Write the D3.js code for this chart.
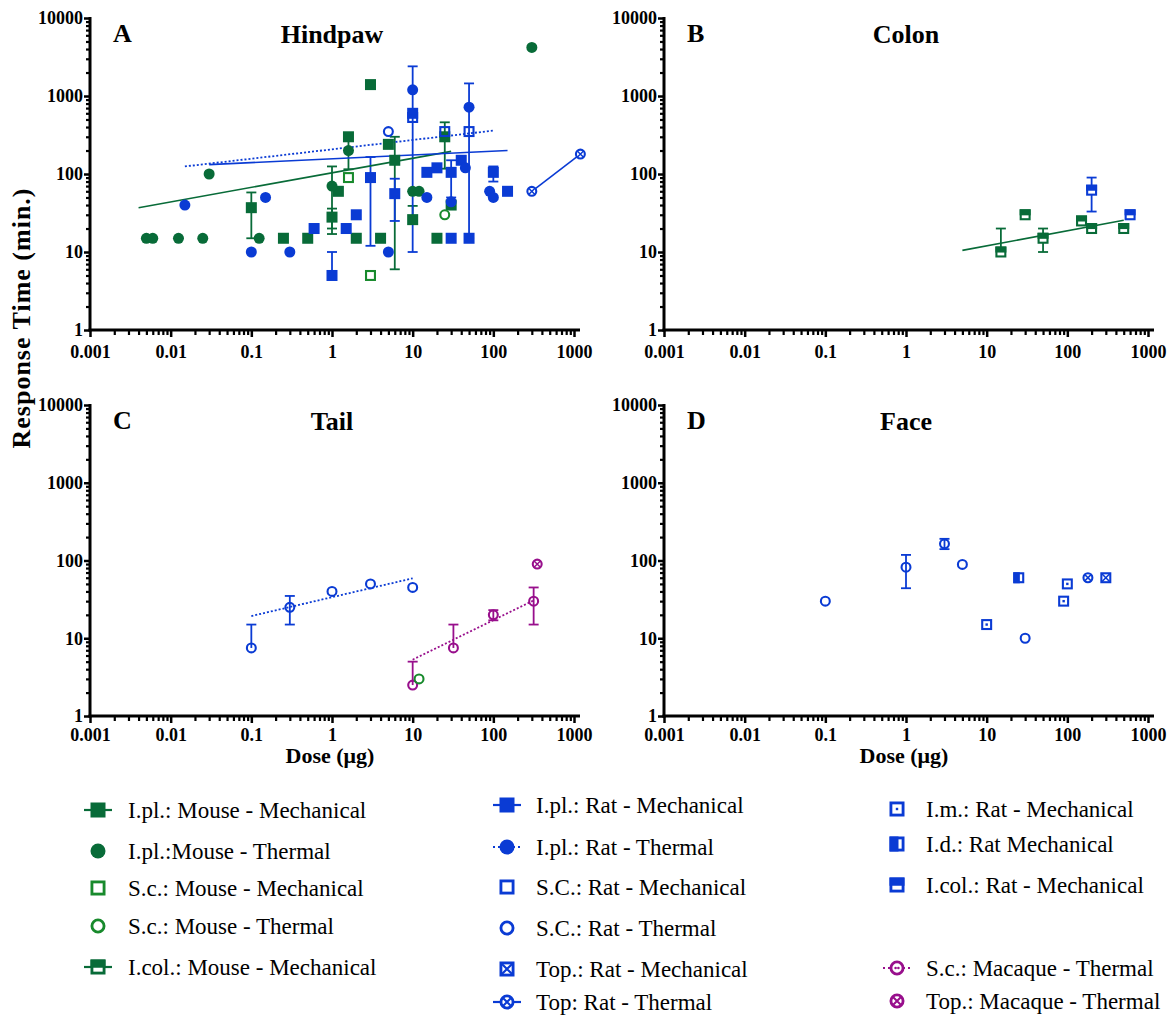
<!DOCTYPE html>
<html>
<head>
<meta charset="utf-8">
<script src="https://cdn.jsdelivr.net/npm/d3@7/dist/d3.min.js"></script>
<style>
  body { margin: 0; background: #fff; }
  svg text { font-family: "Liberation Serif", "DejaVu Serif", "Times New Roman", serif !important; }
</style>
</head>
<body>
<script>
// colours
var GREEN = '#086b38', GREEN2 = '#188a2c', BLUE = '#0a3bd4', PURPLE = '#980f8c';
var SERIF = '"Liberation Serif", "DejaVu Serif", serif';

// axis ticks
var xMajor = [0.001, 0.01, 0.1, 1, 10, 100, 1000];
var yMajor = [1, 10, 100, 1000, 10000];

// ---- A: Hindpaw ----  {d: dose ug, v: minutes, lo/hi: error bar ends}
var hpMouseIplMech = [
  {d: 0.1, v: 37, lo: 15, hi: 58}, {d: 0.25, v: 15}, {d: 0.5, v: 15},
  {d: 1, v: 28, lo: 20, hi: 36}, {d: 1.2, v: 60}, {d: 1.6, v: 300, lo: 115},
  {d: 2, v: 15}, {d: 3, v: 1400}, {d: 4, v: 15}, {d: 5, v: 240},
  {d: 6, v: 150, lo: 6, hi: 300}, {d: 10, v: 26, hi: 39}, {d: 20, v: 15},
  {d: 25, v: 300, lo: 117, hi: 460}, {d: 30, v: 40}
];
var hpMouseIplTherm = [
  {d: 0.005, v: 15}, {d: 0.006, v: 15}, {d: 0.0125, v: 15}, {d: 0.025, v: 15},
  {d: 0.03, v: 100}, {d: 0.125, v: 15}, {d: 1, v: 70, lo: 17, hi: 125},
  {d: 1.6, v: 200}, {d: 10, v: 60}, {d: 12, v: 60}, {d: 300, v: 4200}
];
var hpMouseScMech = [{d: 1.6, v: 90}, {d: 3, v: 5}];
var hpMouseScTherm = [{d: 25, v: 30}];
var hpRatIplMech = [
  {d: 0.6, v: 20}, {d: 1, v: 5, hi: 10}, {d: 1.5, v: 20}, {d: 2, v: 30},
  {d: 3, v: 90, lo: 12, hi: 165}, {d: 6, v: 56, lo: 25, hi: 87}, {d: 10, v: 600},
  {d: 15, v: 105}, {d: 20, v: 120}, {d: 30, v: 105, lo: 50, hi: 150}, {d: 30, v: 15},
  {d: 40, v: 150}, {d: 50, v: 15}, {d: 100, v: 105, lo: 80, hi: 125}, {d: 150, v: 60}
];
var hpRatIplTherm = [
  {d: 0.015, v: 40}, {d: 0.1, v: 10}, {d: 0.15, v: 50}, {d: 0.3, v: 10},
  {d: 5, v: 10}, {d: 10, v: 1200, lo: 10, hi: 2400}, {d: 15, v: 50}, {d: 30, v: 44},
  {d: 45, v: 120}, {d: 50, v: 720, lo: 15, hi: 1450}, {d: 90, v: 60}, {d: 100, v: 50}
];
var hpRatScMech = [{d: 10, v: 530}, {d: 25, v: 350}, {d: 50, v: 350}];
var hpRatScTherm = [{d: 5, v: 350}];
var hpRatTopTherm = [{d: 300, v: 60}, {d: 1200, v: 180}];
var hpFitMouse = [{d: 0.004, v: 37}, {d: 30, v: 195}];
var hpFitRatMech = [{d: 0.03, v: 132}, {d: 150, v: 200}];
var hpFitRatTherm = [{d: 0.015, v: 125}, {d: 100, v: 360}];

// ---- B: Colon ----
var coMouseIcol = [
  {d: 15, v: 10, hi: 20}, {d: 30, v: 30}, {d: 50, v: 15, lo: 10, hi: 20},
  {d: 150, v: 25}, {d: 200, v: 20}, {d: 500, v: 20}
];
var coRatIcol = [{d: 200, v: 62, lo: 33, hi: 90}, {d: 600, v: 30}];
var coFitMouse = [{d: 5, v: 10.5}, {d: 500, v: 25.5}];

// ---- C: Tail ----
var taRatSc = [
  {d: 0.1, v: 7.5, hi: 15}, {d: 0.3, v: 25, lo: 15, hi: 35}, {d: 1, v: 40},
  {d: 3, v: 50}, {d: 10, v: 45}
];
var taMacSc = [
  {d: 10, v: 2.5, hi: 5}, {d: 32, v: 7.5, hi: 15}, {d: 100, v: 20, lo: 17, hi: 23},
  {d: 316, v: 30, lo: 15, hi: 45}
];
var taMacTop = [{d: 350, v: 90}];
var taMouseSc = [{d: 12, v: 3}];
var taFitRat = [{d: 0.1, v: 19.3}, {d: 10, v: 59}];
var taFitMac = [{d: 10, v: 5.3}, {d: 316, v: 30.7}];

// ---- D: Face ----
var faRatSc = [
  {d: 0.1, v: 30}, {d: 1, v: 82, lo: 44, hi: 118}, {d: 3, v: 164, lo: 140, hi: 190},
  {d: 5, v: 89}, {d: 30, v: 10}
];
var faRatIm = [{d: 10, v: 15}, {d: 90, v: 30}, {d: 100, v: 50}];
var faRatId = [{d: 25, v: 60}];
var faRatTopTherm = [{d: 180, v: 60}];
var faRatTopMech = [{d: 300, v: 60}];

// legend labels
var legendCol1 = ['I.pl.: Mouse - Mechanical', 'I.pl.:Mouse - Thermal', 'S.c.: Mouse - Mechanical',
  'S.c.: Mouse - Thermal', 'I.col.: Mouse - Mechanical'];
var legendCol2 = ['I.pl.: Rat - Mechanical', 'I.pl.: Rat - Thermal', 'S.C.: Rat - Mechanical',
  'S.C.: Rat - Thermal', 'Top.: Rat - Mechanical', 'Top: Rat - Thermal'];
var legendCol3 = ['I.m.: Rat - Mechanical', 'I.d.: Rat Mechanical', 'I.col.: Rat - Mechanical',
  'S.c.: Macaque - Thermal', 'Top.: Macaque - Thermal'];

var svg = d3.select('body').append('svg').attr('width', 1171).attr('height', 1015)
  .style('font-family', SERIF);

var minorX = [];
xMajor.slice(0, -1).forEach(function(d) { for (var k = 2; k < 10; k++) minorX.push(d * k); });
var minorY = [];
yMajor.slice(0, -1).forEach(function(d) { for (var k = 2; k < 10; k++) minorY.push(d * k); });

// draw one marker centred on cx, cy
function marker(g, type, color, cx, cy, s) {
  var h = s / 2, sw = Math.max(1.8, s * 0.19), r = h - sw / 2;
  var m = g.append('g').attr('transform', 'translate(' + cx + ',' + cy + ')');
  if (type == 'sq') {
    m.append('rect').attr('x', -h).attr('y', -h).attr('width', s).attr('height', s).attr('fill', color);
  } else if (type == 'circ') {
    m.append('circle').attr('r', h).attr('fill', color);
  } else if (type == 'circOpen' || type == 'circX' || type == 'circDot') {
    m.append('circle').attr('r', r).attr('fill', type == 'circOpen' ? 'none' : '#fff')
      .attr('stroke', color).attr('stroke-width', sw);
    if (type == 'circX') {
      var a = r * 0.7;
      m.append('path').attr('d', 'M' + (-a) + ',' + (-a) + 'L' + a + ',' + a + 'M' + a + ',' + (-a) + 'L' + (-a) + ',' + a)
        .attr('stroke', color).attr('stroke-width', sw * 0.7);
    }
    if (type == 'circDot') {
      m.append('circle').attr('r', sw * 0.45).attr('cx', -sw * 0.5).attr('fill', color);
      m.append('circle').attr('r', sw * 0.45).attr('cx', sw * 0.5).attr('fill', color);
    }
  } else {
    // square variants
    m.append('rect').attr('x', -r).attr('y', -r).attr('width', 2 * r).attr('height', 2 * r)
      .attr('fill', type == 'sqOpen' ? 'none' : '#fff').attr('stroke', color).attr('stroke-width', sw);
    if (type == 'sqTop') {
      m.append('rect').attr('x', -h).attr('y', -h).attr('width', s).attr('height', s * 0.55).attr('fill', color);
    }
    if (type == 'sqLeft') {
      m.append('rect').attr('x', -h).attr('y', -h).attr('width', s * 0.6).attr('height', s).attr('fill', color);
    }
    if (type == 'sqX') {
      m.append('path').attr('d', 'M' + (-r) + ',' + (-r) + 'L' + r + ',' + r + 'M' + r + ',' + (-r) + 'L' + (-r) + ',' + r)
        .attr('stroke', color).attr('stroke-width', sw * 0.75);
    }
    if (type == 'sqDot') {
      m.append('rect').attr('x', -1.2).attr('y', -1.2).attr('width', 2.4).attr('height', 2.4).attr('fill', color);
    }
  }
}

var panels = [
  {id: 'A', title: 'Hindpaw', left: 90, right: 574, top: 18, bottom: 330, pad: 8,
    series: [
      {data: hpMouseIplMech, type: 'sq', color: GREEN},
      {data: hpMouseIplTherm, type: 'circ', color: GREEN},
      {data: hpMouseScMech, type: 'sqOpen', color: GREEN2},
      {data: hpMouseScTherm, type: 'circOpen', color: GREEN2},
      {data: hpRatIplMech, type: 'sq', color: BLUE},
      {data: hpRatIplTherm, type: 'circ', color: BLUE},
      {data: hpRatScMech, type: 'sqOpen', color: BLUE},
      {data: hpRatScTherm, type: 'circOpen', color: BLUE},
      {data: hpRatTopTherm, type: 'circX', color: BLUE}
    ],
    lines: [
      {data: hpFitMouse, color: GREEN},
      {data: hpFitRatMech, color: BLUE},
      {data: hpFitRatTherm, color: BLUE, dash: '2,2'},
      {data: hpRatTopTherm, color: BLUE}
    ]},
  {id: 'B', title: 'Colon', left: 664, right: 1148, top: 18, bottom: 330, pad: 8,
    series: [
      {data: coMouseIcol, type: 'sqTop', color: GREEN},
      {data: coRatIcol, type: 'sqTop', color: BLUE}
    ],
    lines: [{data: coFitMouse, color: GREEN}]},
  {id: 'C', title: 'Tail', left: 90, right: 574, top: 405, bottom: 716, pad: 5, xTitle: true,
    series: [
      {data: taRatSc, type: 'circOpen', color: BLUE},
      {data: taMacSc, type: 'circOpen', color: PURPLE},
      {data: taMacTop, type: 'circX', color: PURPLE},
      {data: taMouseSc, type: 'circOpen', color: GREEN2}
    ],
    lines: [
      {data: taFitRat, color: BLUE, dash: '2,2'},
      {data: taFitMac, color: PURPLE, dash: '2,2'}
    ]},
  {id: 'D', title: 'Face', left: 664, right: 1148, top: 405, bottom: 716, pad: 5, xTitle: true,
    series: [
      {data: faRatSc, type: 'circOpen', color: BLUE},
      {data: faRatIm, type: 'sqDot', color: BLUE},
      {data: faRatId, type: 'sqLeft', color: BLUE},
      {data: faRatTopTherm, type: 'circX', color: BLUE},
      {data: faRatTopMech, type: 'sqX', color: BLUE}
    ],
    lines: []}
];

panels.forEach(function(p) {
  var x = d3.scaleLog().domain([0.001, 1000]).range([p.left, p.right]);
  var y = d3.scaleLog().domain([1, 10000]).range([p.bottom, p.top]);
  var g = svg.append('g');

  // minor ticks
  g.append('g').attr('transform', 'translate(0,' + p.bottom + ')')
    .call(d3.axisBottom(x).tickValues(minorX).tickSize(5).tickFormat(''))
    .call(function(a) { a.select('.domain').remove(); a.selectAll('line').attr('stroke-width', 2.2); });
  g.append('g').attr('transform', 'translate(' + p.left + ',0)')
    .call(d3.axisLeft(y).tickValues(minorY).tickSize(4).tickFormat(''))
    .call(function(a) { a.select('.domain').remove(); a.selectAll('line').attr('stroke-width', 2.2); });

  // major axes
  g.append('g').attr('transform', 'translate(0,' + p.bottom + ')')
    .call(d3.axisBottom(x).tickValues(xMajor).tickSize(7).tickSizeOuter(0).tickPadding(p.pad).tickFormat(String))
    .call(function(a) {
      a.attr('font-family', null);
      a.select('.domain').attr('stroke-width', 3).attr('d', 'M' + (p.left - 1.5) + ',0H' + (p.right + 6));
      a.selectAll('line').attr('stroke-width', 2.5);
      a.selectAll('text').attr('font-size', 18).attr('font-weight', 'bold').attr('fill', '#000');
    });
  g.append('g').attr('transform', 'translate(' + p.left + ',0)')
    .call(d3.axisLeft(y).tickValues(yMajor).tickSize(6).tickSizeOuter(0).tickPadding(1).tickFormat(String))
    .call(function(a) {
      a.attr('font-family', null);
      a.select('.domain').attr('stroke-width', 3).attr('d', 'M0,' + (p.top - 1) + 'V' + (p.bottom + 1.5));
      a.selectAll('line').attr('stroke-width', 2.5);
      a.selectAll('text').attr('font-size', 18).attr('font-weight', 'bold').attr('fill', '#000');
    });

  // panel letter and title
  g.append('text').attr('x', p.left + 23).attr('y', p.top + 24).attr('font-size', 26)
    .attr('font-weight', 'bold').text(p.id);
  g.append('text').attr('x', (p.left + p.right) / 2).attr('y', p.top + 25).attr('font-size', 26)
    .attr('font-weight', 'bold').attr('text-anchor', 'middle').text(p.title);
  if (p.xTitle) {
    g.append('text').attr('x', (p.left + p.right) / 2 - 2).attr('y', p.bottom + 47).attr('font-size', 22)
      .attr('font-weight', 'bold').attr('text-anchor', 'middle').text('Dose (\u03bcg)');
  }

  // error bars
  p.series.forEach(function(s) {
    s.data.forEach(function(d) {
      if (d.lo == null && d.hi == null) return;
      var px = x(d.d), y0 = y(d.lo != null ? d.lo : d.v), y1 = y(d.hi != null ? d.hi : d.v);
      g.append('line').attr('x1', px).attr('x2', px).attr('y1', y0).attr('y2', y1)
        .attr('stroke', s.color).attr('stroke-width', 1.8);
      [d.lo, d.hi].forEach(function(e) {
        if (e == null) return;
        g.append('line').attr('x1', px - 5).attr('x2', px + 5).attr('y1', y(e)).attr('y2', y(e))
          .attr('stroke', s.color).attr('stroke-width', 1.8);
      });
    });
  });

  // fit / connecting lines
  var line = d3.line().x(function(d) { return x(d.d); }).y(function(d) { return y(d.v); });
  p.lines.forEach(function(l) {
    g.append('path').attr('d', line(l.data)).attr('fill', 'none').attr('stroke', l.color)
      .attr('stroke-width', l.dash ? 1.8 : 1.6).attr('stroke-dasharray', l.dash || null);
  });

  // markers
  p.series.forEach(function(s) {
    s.data.forEach(function(d) { marker(g, s.type, s.color, x(d.d), y(d.v), 11); });
  });
});

// y axis title
svg.append('text').attr('transform', 'translate(30,318) rotate(-90)').attr('text-anchor', 'middle')
  .attr('font-size', 26).attr('letter-spacing', 1).attr('font-weight', 'bold').text('Response Time (min.)');

// legend
var legendSets = [
  {labels: legendCol1, mx: 98, tx: 128, rows: [810, 851, 888, 926, 967],
    styles: [{t: 'sq', c: GREEN, l: 'solid'}, {t: 'circ', c: GREEN}, {t: 'sqOpen', c: GREEN2},
      {t: 'circOpen', c: GREEN2}, {t: 'sqTop', c: GREEN, l: 'solid'}]},
  {labels: legendCol2, mx: 507, tx: 536, rows: [805, 847, 887, 928, 969, 1002],
    styles: [{t: 'sq', c: BLUE, l: 'solid'}, {t: 'circ', c: BLUE, l: 'dot'}, {t: 'sqOpen', c: BLUE},
      {t: 'circOpen', c: BLUE}, {t: 'sqX', c: BLUE}, {t: 'circX', c: BLUE, l: 'solid'}]},
  {labels: legendCol3, mx: 897, tx: 926, rows: [809, 844, 885, 968, 1001],
    styles: [{t: 'sqDot', c: BLUE}, {t: 'sqLeft', c: BLUE}, {t: 'sqTop', c: BLUE},
      {t: 'circDot', c: PURPLE, l: 'dot'}, {t: 'circX', c: PURPLE}]}
];
var lg = svg.append('g');
legendSets.forEach(function(set) {
  set.labels.forEach(function(lab, i) {
    var st = set.styles[i], cy = set.rows[i];
    if (st.l) {
      lg.append('line').attr('x1', set.mx - 14).attr('x2', set.mx + 14).attr('y1', cy).attr('y2', cy)
        .attr('stroke', st.c).attr('stroke-width', 2.2).attr('stroke-dasharray', st.l == 'dot' ? '2,3' : null);
    }
    marker(lg, st.t, st.c, set.mx, cy, 15);
    lg.append('text').attr('x', set.tx).attr('y', cy).attr('dy', '0.33em').attr('font-size', 23).text(lab);
  });
});
</script>
</body>
</html>
